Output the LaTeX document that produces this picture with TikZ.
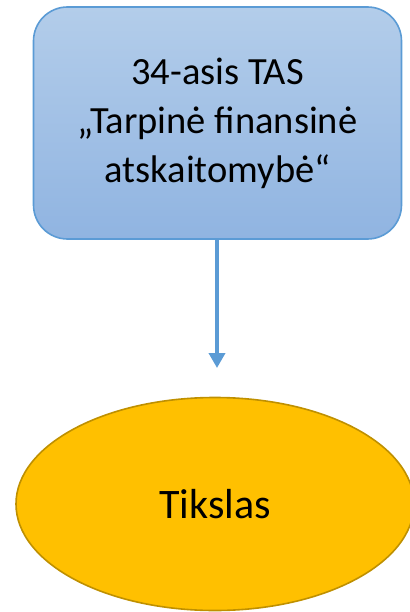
\documentclass[tikz,border=0pt]{standalone}
\usepackage{fontspec}
\setmainfont{Carlito}
\usetikzlibrary{shapes.geometric,arrows.meta}
\definecolor{boxtop}{HTML}{B3CDEA}
\definecolor{boxbot}{HTML}{90B4E1}
\definecolor{boxline}{HTML}{5B9BD5}
\definecolor{ellfill}{HTML}{FFC000}
\definecolor{ellline}{HTML}{BF9000}
\tikzset{
  topbox/.style={draw=boxline, line width=1.6pt, rounded corners=34pt,
    top color=boxtop, bottom color=boxbot, minimum width=368pt, minimum height=232pt,
    align=center, font=\fontsize{38.5}{49}\selectfont, inner sep=0pt},
  goal/.style={ellipse, draw=ellline, line width=1.6pt, fill=ellfill,
    minimum width=398pt, minimum height=213pt, inner sep=0pt,
    font=\fontsize{42}{50}\selectfont},
  link/.style={draw=boxline, line width=3.6pt, -{Triangle[width=16pt,length=15pt]}}
}
\begin{document}
\begin{tikzpicture}[x=1pt,y=-1pt]
\useasboundingbox (0,0) rectangle (409,612);
\node[topbox] (tas) at (217.5,123) {34-asis TAS\\„Tarpinė finansinė\\atskaitomybė“};
\node[goal] (goal) at (215,504) {Tikslas};
\coordinate (tip) at (217,368);
\draw[link] (tas.south -| tip) -- (tip);
\end{tikzpicture}
\end{document}
